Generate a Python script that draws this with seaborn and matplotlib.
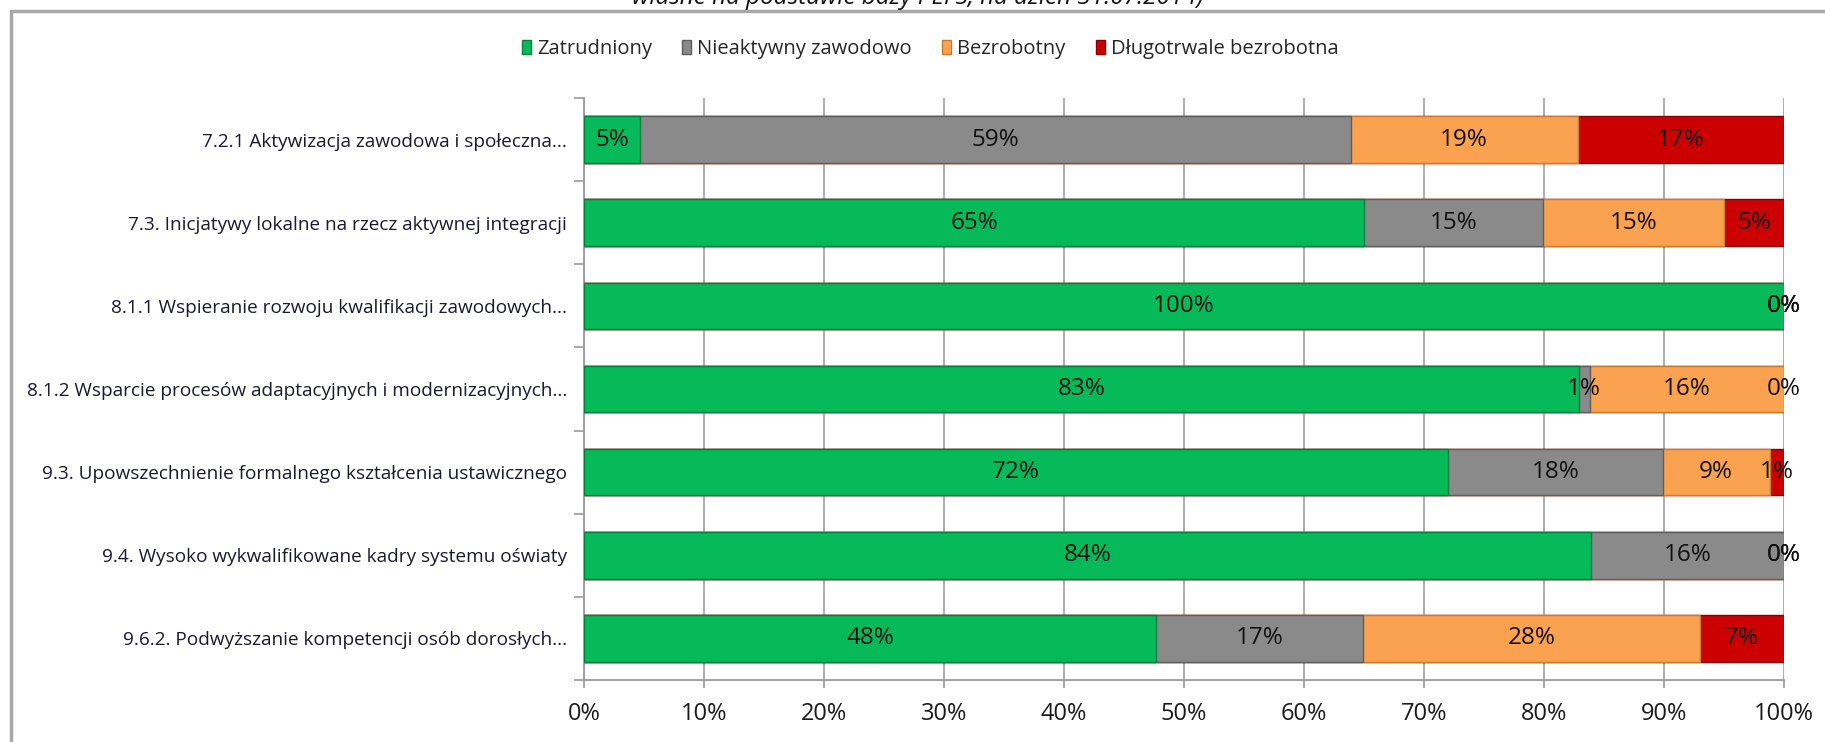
import matplotlib
matplotlib.use("Agg")
import matplotlib.pyplot as plt
import matplotlib.patches as mpatches
from matplotlib.ticker import PercentFormatter, FixedLocator
import seaborn as sns
import numpy as np

# ---- data ----
categories = [
    "7.2.1 Aktywizacja zawodowa i społeczna...",
    "7.3. Inicjatywy lokalne na rzecz aktywnej integracji",
    "8.1.1 Wspieranie rozwoju kwalifikacji zawodowych...",
    "8.1.2 Wsparcie procesów adaptacyjnych i modernizacyjnych...",
    "9.3. Upowszechnienie formalnego kształcenia ustawicznego",
    "9.4. Wysoko wykwalifikowane kadry systemu oświaty",
    "9.6.2. Podwyższanie kompetencji osób dorosłych...",
]
series_names = ["Zatrudniony", "Nieaktywny zawodowo", "Bezrobotny", "Długotrwale bezrobotna"]
zatrudniony = [4.7, 65.0, 100.0, 82.9, 72.0, 83.9, 47.7]
nieaktywny = [59.2, 14.9, 0.0, 0.9, 17.9, 16.1, 17.2]
bezrobotny = [18.9, 15.1, 0.0, 16.2, 8.9, 0.0, 28.1]
dlugotrwale = [17.2, 5.0, 0.0, 0.0, 1.2, 0.0, 7.0]
xticks = [0, 10, 20, 30, 40, 50, 60, 70, 80, 90, 100]
caption = "własne na podstawie bazy PEFS, na dzień 31.07.2014)"

colors = ["#06BA5A", "#8A8A8A", "#FBA250", "#CC0000"]
edges = ["#04803E", "#5E5E5E", "#C97A33", "#8A0000"]

sns.set_theme(style="white")
plt.rcParams["font.family"] = ["Open Sans", "DejaVu Sans"]

W, H = 1825, 742
fig = plt.figure(figsize=(W / 100, H / 100), dpi=100)
ax = fig.add_axes([584 / W, 1 - 680 / H, 1200 / W, 582 / H])

data = np.array([zatrudniony, nieaktywny, bezrobotny, dlugotrwale])
cum = np.cumsum(data, axis=0)

# draw stacked bars back to front via cumulative totals
for i in range(len(series_names) - 1, -1, -1):
    sns.barplot(x=cum[i], y=categories, orient="h", color=colors[i],
                saturation=1, width=0.56, edgecolor=edges[i], linewidth=1.0,
                ax=ax, zorder=3)

# data labels
for i in range(len(series_names)):
    starts = cum[i] - data[i]
    for j, v in enumerate(data[i]):
        xc = starts[j] + v / 2
        ax.text(xc, j, f"{v:.0f}%", ha="center", va="center",
                fontsize=17.5, color="#111111", zorder=5)

ax.set_xlim(0, 100)
ax.set_ylim(6.5, -0.5)
ax.set_xticks(xticks)
ax.xaxis.set_major_formatter(PercentFormatter(decimals=0))
ax.set_xlabel("")
ax.set_ylabel("")

ax.grid(axis="x", color="#A0A0A0", linewidth=1.2, zorder=0)
ax.grid(axis="y", visible=False)
ax.set_axisbelow(True)

for s in ["top", "right"]:
    ax.spines[s].set_visible(False)
for s in ["left", "bottom"]:
    ax.spines[s].set_color("#9A9A9A")
    ax.spines[s].set_linewidth(1.3)

ax.tick_params(axis="x", length=6, width=1.2, color="#9A9A9A", pad=10,
               labelsize=17, labelcolor="#1a1a1a", bottom=True)
ax.tick_params(axis="y", which="major", length=0, pad=12, labelsize=13.7,
               labelcolor="#1a1a2e", left=True)
ax.yaxis.set_minor_locator(FixedLocator(np.arange(-0.5, 7, 1.0)))
ax.tick_params(axis="y", which="minor", length=7, width=1.2, color="#9A9A9A", left=True)

# legend
handles = [mpatches.Patch(facecolor=c, edgecolor=e, label=n)
           for c, e, n in zip(colors, edges, series_names)]
fig.legend(handles=handles, loc="center", bbox_to_anchor=(930 / W, 1 - 49 / H),
           ncol=4, frameon=False, fontsize=14.5, handlelength=0.45, handleheight=0.65,
           handletextpad=0.3, columnspacing=1.5)

# chart frame
frame = mpatches.Rectangle((11 / W, -0.05), 1.1, 1 - 11 / H + 0.05,
                           transform=fig.transFigure, fill=False,
                           edgecolor="#A8A8A8", linewidth=2.5, clip_on=False)
fig.patches.append(frame)

# caption partially cut at top
fig.text(918 / W, 1 - 4.5 / H, caption, ha="center", va="baseline",
         fontsize=17.5, style="italic", color="#111111")

fig.savefig("out.png", dpi=100)
